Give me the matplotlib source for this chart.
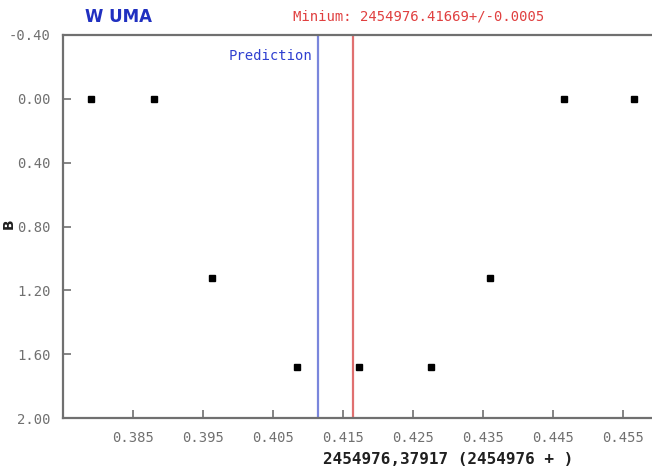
#!/usr/bin/env python3

"""
W UMa minimum timing plot: observed points vs predicted and measured minimum.
"""

import matplotlib
matplotlib.use("Agg")
import matplotlib.pyplot as plt

# data (HJD - 2454976)
hjd = [0.3790, 0.3880, 0.3963, 0.4084, 0.4173, 0.4276, 0.4360, 0.4466, 0.4566]
mag = [0.00, 0.00, 1.12, 1.68, 1.68, 1.68, 1.12, 0.00, 0.00]
prediction = 0.4114
minimum = 0.4164
xticks = [0.385, 0.395, 0.405, 0.415, 0.425, 0.435, 0.445, 0.455]
yticks = [-0.40, 0.00, 0.40, 0.80, 1.20, 1.60, 2.00]

mono = "DejaVu Sans Mono"
grey = "#707070"

fig = plt.figure(figsize=(6.52, 4.75), dpi=100)
ax = fig.add_axes([63 / 652, 1 - 418 / 475, 1 - 63 / 652, (418 - 35) / 475])

ax.plot(hjd, mag, "s", color="black", markersize=4)
ax.axvline(prediction, color="#7a86dc", linewidth=1.6)
ax.axvline(minimum, color="#e07070", linewidth=1.6)

ax.set_xlim(0.375, 0.4591)
ax.set_ylim(2.00, -0.40)
ax.set_xticks(xticks)
ax.set_xticklabels(["%.3f" % t for t in xticks])
ax.set_yticks(yticks)
ax.set_yticklabels(["%.2f" % t for t in yticks])

for side in ["left", "bottom", "top"]:
    ax.spines[side].set_color(grey)
    ax.spines[side].set_linewidth(1.6)
ax.spines["right"].set_visible(False)

ax.tick_params(direction="in", length=6, width=1.2, color=grey,
               labelcolor=grey, labelsize=10, pad=9)
for lab in ax.get_xticklabels() + ax.get_yticklabels():
    lab.set_family(mono)

ax.text(prediction - 0.0008, -0.27, "Prediction", color="#3040d0",
        family=mono, fontsize=10, ha="right", va="center")

fig.text(85 / 652, 1 - 17 / 475, "W UMA", color="#2030c0",
         fontsize=12, fontweight="bold", ha="left", va="center")
fig.text(419 / 652, 1 - 17 / 475, "Minium: 2454976.41669+/-0.0005",
         color="#e04040", family=mono, fontsize=10, ha="center", va="center")
fig.text(448 / 652, 1 - 460 / 475, "2454976,37917 (2454976 + )",
         color="#202020", family=mono, fontsize=11.5, fontweight="bold",
         ha="center", va="center")
fig.text(9 / 652, 1 - 224 / 475, "B", color="#202020", fontsize=10,
         fontweight="bold", rotation=90, ha="center", va="center")

fig.savefig("out.png", dpi=100)
